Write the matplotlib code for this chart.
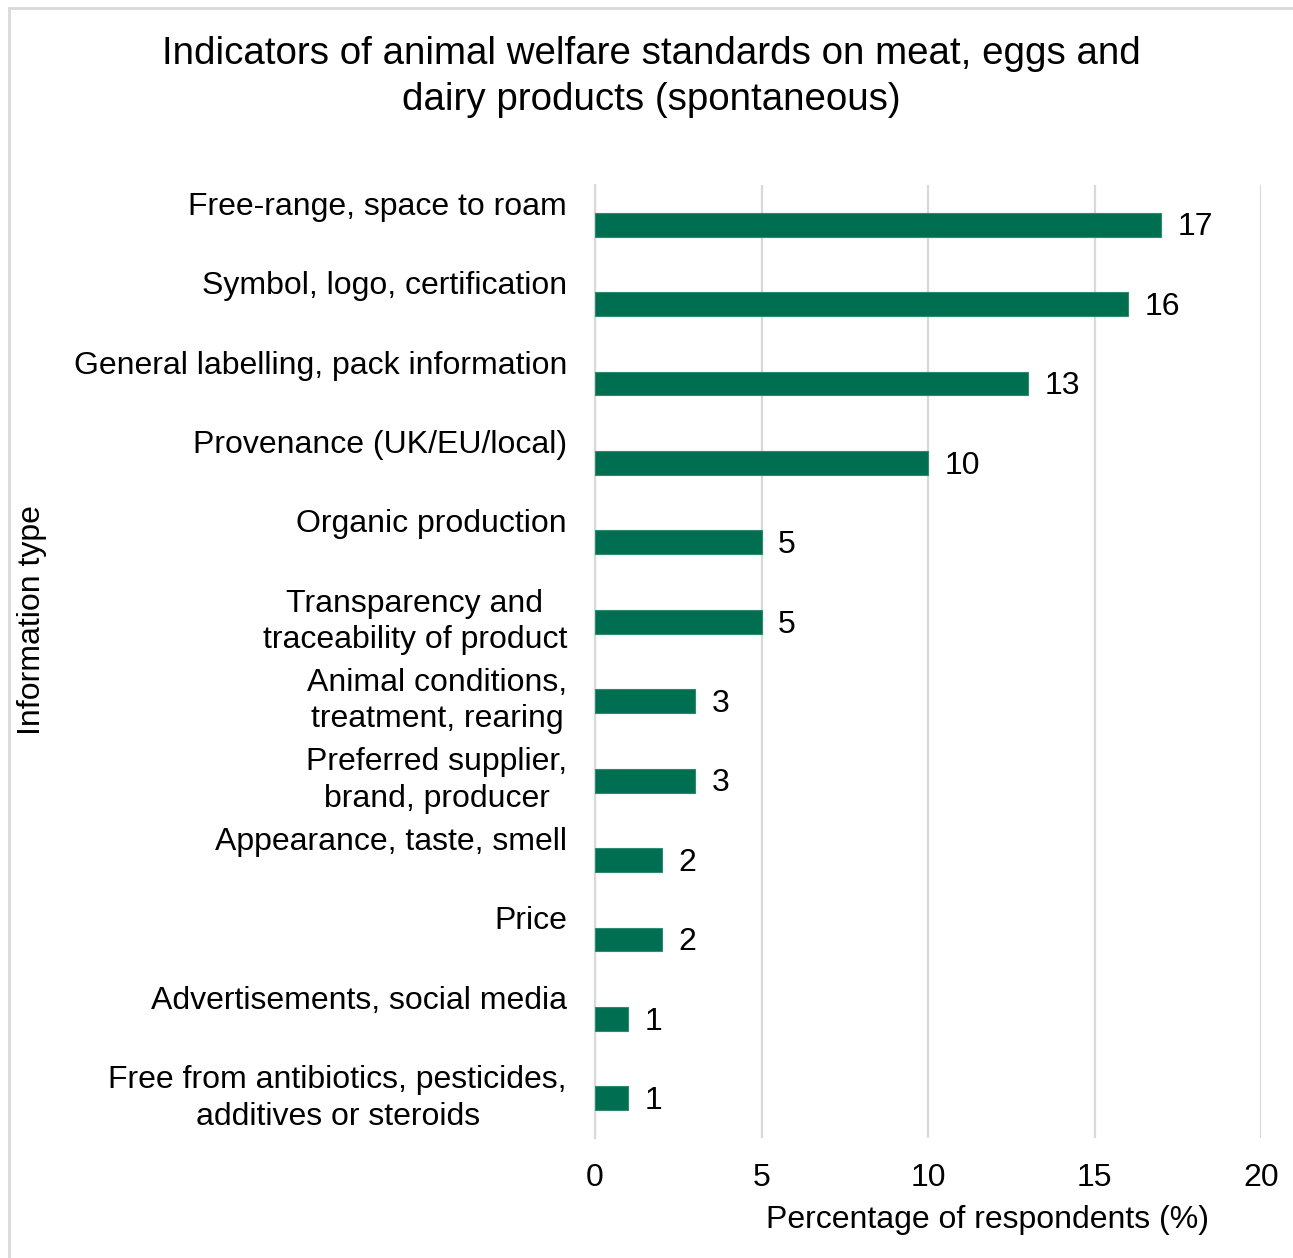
import matplotlib
matplotlib.use("Agg")
import matplotlib.pyplot as plt
from matplotlib.patches import Rectangle
from matplotlib.transforms import blended_transform_factory, ScaledTranslation

plt.rcParams['font.family'] = ['Liberation Sans', 'DejaVu Sans']

categories = [
    "Free-range, space to roam",
    "Symbol, logo, certification",
    "General labelling, pack information",
    "Provenance (UK/EU/local)",
    "Organic production",
    "Transparency and\ntraceability of product",
    "Animal conditions,\ntreatment, rearing",
    "Preferred supplier,\nbrand, producer",
    "Appearance, taste, smell",
    "Price",
    "Advertisements, social media",
    "Free from antibiotics, pesticides,\nadditives or steroids",
]
values = [17, 16, 13, 10, 5, 5, 3, 3, 2, 2, 1, 1]
x_ticks = [0, 5, 10, 15, 20]

title = "Indicators of animal welfare standards on meat, eggs and\ndairy products (spontaneous)"
x_title = "Percentage of respondents (%)"
y_title = "Information type"

W, H = 1293, 1258
fig = plt.figure(figsize=(W / 100, H / 100), dpi=100)
fig.patch.set_facecolor("white")

# chart-area border (top and left edges visible)
fig.add_artist(Rectangle((9 / W, -0.1), 1.2, 1 - 8 / H + 0.1, transform=fig.transFigure,
                         fill=False, edgecolor="#d9d9d9", linewidth=2.0))

ax = fig.add_axes([595 / W, 1 - 1138 / H, (1261 - 595) / W, (1138 - 185) / H])

green = "#006f51"
ypos = list(range(len(categories)))
ax.barh(ypos, values, height=0.30, color=green, edgecolor="#2e8a6e", linewidth=0.8, zorder=3)

ax.set_xlim(0, 20)
ax.set_ylim(len(categories) - 0.5, -0.5)
ax.set_xticks(x_ticks)
ax.set_xticklabels([str(t) for t in x_ticks], fontsize=23)
ax.set_yticks(ypos)
ax.set_yticklabels([])
ax.tick_params(axis="y", length=0)
ax.tick_params(axis="x", length=0, pad=18)

ax.grid(axis="x", color="#d9d9d9", linewidth=1.6, zorder=0)
for s in ["top", "right", "bottom"]:
    ax.spines[s].set_visible(False)
ax.spines["left"].set_color("#d9d9d9")
ax.spines["left"].set_linewidth(1.6)

# category labels: single-line names sit above the bar, wrapped names are centred on it
label_trans = blended_transform_factory(fig.transFigure, ax.transData)
for y, cat in zip(ypos, categories):
    lift = 0 if "\n" in cat else 18
    t = label_trans + ScaledTranslation(0, lift / 100, fig.dpi_scale_trans)
    ax.text(567 / W, y, cat, transform=t, ha="right", va="center",
            multialignment="center", fontsize=23, linespacing=1.28)

for y, v in zip(ypos, values):
    ax.annotate(str(v), xy=(v, y), xytext=(12, -2), textcoords="offset points",
                ha="left", va="center", fontsize=23)

fig.text(651 / W, 1 - 77 / H, title, ha="center", va="center", fontsize=27.7, linespacing=1.35)
fig.text(987 / W, 1 - 1220 / H, x_title, ha="center", va="center", fontsize=23)
fig.text(32 / W, 1 - 620 / H, y_title, ha="center", va="center", rotation=90, fontsize=23)

fig.savefig("out.png", dpi=100)
